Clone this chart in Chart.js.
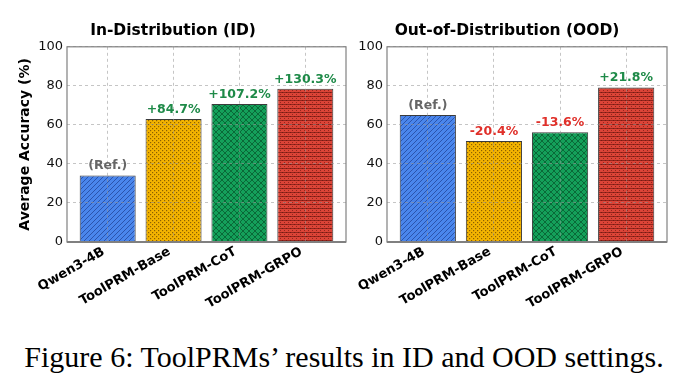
<!DOCTYPE html>
<html>
<head>
<meta charset="utf-8">
<script src="https://cdn.jsdelivr.net/npm/chart.js@4.4.1/dist/chart.umd.min.js"></script>
<style>
  body { margin: 0; background: #fff; width: 688px; height: 390px; position: relative; overflow: hidden; }
  #left { position: absolute; left: 0; top: 0; }
  #right { position: absolute; left: 347px; top: 0; }
  #caption { position: absolute; left: 0; width: 688px; top: 340px; line-height: 34px; text-align: center;
             font-family: "Liberation Serif", "DejaVu Serif", serif; font-size: 30px; color: #000; }
</style>
</head>
<body>
<canvas id="left" width="350" height="320"></canvas>
<canvas id="right" width="341" height="320"></canvas>
<div id="caption">Figure 6: ToolPRMs’ results in ID and OOD settings.</div>
<script>
const models = ['Qwen3-4B', 'ToolPRM-Base', 'ToolPRM-CoT', 'ToolPRM-GRPO'];
const idValues = [34.1, 63.0, 70.7, 78.5];
const oodValues = [65.0, 51.7, 56.2, 79.2];
const idNotes = ['(Ref.)', '+84.7%', '+107.2%', '+130.3%'];
const oodNotes = ['(Ref.)', '-20.4%', '-13.6%', '+21.8%'];
const yTicks = [0, 20, 40, 60, 80, 100];

Chart.defaults.font.family = 'DejaVu Sans';
Chart.defaults.color = '#111';

/** Small tiled patterns that stand in for the matplotlib hatches. */
function hatch(base, ink, size, draw) {
    const c = document.createElement('canvas');
    c.width = c.height = size;
    const g = c.getContext('2d');
    g.fillStyle = base;
    g.fillRect(0, 0, size, size);
    g.strokeStyle = ink;
    g.fillStyle = ink;
    g.lineWidth = 1;
    draw(g, size);
    return g.createPattern(c, 'repeat');
}

const fills = [
    hatch('#4a86ec', 'rgba(20,45,120,0.7)', 5, (g, s) => {
        g.lineWidth = 0.8;
        g.beginPath();
        g.moveTo(-1, s + 1); g.lineTo(s + 1, -1);
        g.moveTo(-1, 1); g.lineTo(1, -1);
        g.moveTo(s - 1, s + 1); g.lineTo(s + 1, s - 1);
        g.stroke();
    }),
    hatch('#f4b400', 'rgba(95,60,0,0.7)', 4, (g) => {
        g.fillRect(0, 0, 1.2, 1.2);
        g.fillRect(2, 2, 1.2, 1.2);
    }),
    hatch('#14a05a', 'rgba(0,45,20,0.6)', 6, (g, s) => {
        g.lineWidth = 0.8;
        g.beginPath();
        g.moveTo(0, s); g.lineTo(s, 0);
        g.moveTo(0, 0); g.lineTo(s, s);
        g.stroke();
    }),
    hatch('#dc4437', 'rgba(90,15,10,0.55)', 4, (g) => {
        g.fillRect(0, 0, 4, 1);
        g.fillRect(0, 2, 1, 1);
        g.fillRect(2, 0, 1, 1);
    })
];

const noteColor = t => t.startsWith('(') ? '#666666' : (t.startsWith('-') ? '#e0302a' : '#1e8a48');

// grid sits on top of the bars, like in the paper figure
const gridOpts = { display: true, drawOnChartArea: true, z: 1, color: 'rgba(150,150,150,0.55)', lineWidth: 1, drawTicks: false };

function panel(id, title, values, notes, yWidth, padRight, yTitle) {
    const ctx = document.getElementById(id).getContext('2d');
    return new Chart(ctx, {
        type: 'bar',
        data: {
            datasets: [{
                data: values.map((v, i) => ({ x: i, y: v })),
                backgroundColor: fills,
                borderColor: 'rgba(25,25,25,0.85)',
                borderWidth: 1,
                barPercentage: 0.85,
                categoryPercentage: 1.0
            }]
        },
        options: {
            responsive: false,
            animation: false,
            layout: { padding: { left: 0, right: padRight, top: 0, bottom: 0 } },
            plugins: {
                legend: { display: false },
                tooltip: { enabled: false },
                title: {
                    display: true,
                    text: title,
                    color: '#000',
                    font: { size: 15.5, weight: 'bold' },
                    padding: { top: 21.4, bottom: 6.8 }
                }
            },
            scales: {
                x: {
                    type: 'linear',
                    min: -0.6175,
                    max: 3.6175,
                    offset: false,
                    afterBuildTicks: s => { s.ticks = models.map((m, i) => ({ value: i })); },
                    afterFit: s => { s.height = 78; },
                    border: { display: true, width: 0, dash: [3, 3] },
                    grid: Object.assign({ offset: false }, gridOpts),
                    ticks: {
                        autoSkip: false,
                        minRotation: 30,
                        maxRotation: 30,
                        padding: 2,
                        labelOffset: -4,
                        color: '#000',
                        font: { size: 13, weight: 'bold' },
                        callback: v => models[v]
                    }
                },
                y: {
                    min: 0,
                    max: 100,
                    afterBuildTicks: s => { s.ticks = yTicks.map(v => ({ value: v })); },
                    afterFit: s => { s.width = yWidth; },
                    border: { display: true, width: 0, dash: [3, 3] },
                    grid: gridOpts,
                    ticks: { padding: 4, color: '#111', font: { size: 13 } },
                    title: {
                        display: !!yTitle,
                        text: yTitle,
                        color: '#000',
                        font: { size: 14, weight: 'bold' },
                        padding: { top: 16.6, bottom: 0 }
                    }
                }
            }
        },
        plugins: [{
            id: 'frameAndNotes',
            afterDraw(chart) {
                const c = chart.ctx;
                const a = chart.chartArea;

                const meta = chart.getDatasetMeta(0);
                c.save();
                c.font = 'bold 12.5px "DejaVu Sans"';
                c.textAlign = 'center';
                c.textBaseline = 'alphabetic';
                meta.data.forEach((bar, i) => {
                    c.fillStyle = noteColor(notes[i]);
                    c.fillText(notes[i], bar.x, bar.y - 6);
                });
                c.restore();

                c.save();
                c.strokeStyle = '#808080';
                c.lineWidth = 1.2;
                c.strokeRect(a.left, a.top, a.right - a.left, a.bottom - a.top);
                c.lineWidth = 2;
                c.beginPath();
                c.moveTo(a.left, a.bottom);
                c.lineTo(a.right, a.bottom);
                c.stroke();
                c.restore();
            }
        }]
    });
}

panel('left', 'In-Distribution (ID)', idValues, idNotes, 67, 4, 'Average Accuracy (%)');
panel('right', 'Out-of-Distribution (OOD)', oodValues, oodNotes, 40, 21, '');
</script>
</body>
</html>
